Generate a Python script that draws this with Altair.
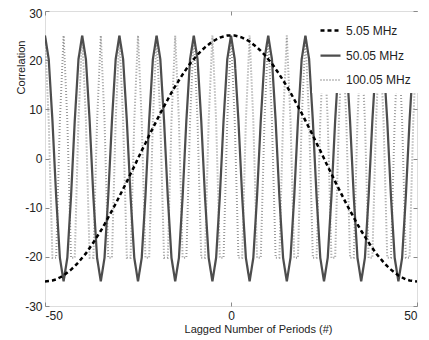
import altair as alt
import pandas as pd

lags = list(range(-50, 51))
series_names = ["5.05 MHz", "50.05 MHz", "100.05 MHz"]

corr_5 = [
    -25.0, -24.9, -24.8, -24.6, -24.2, -23.8, -23.2, -22.6, -21.9, -21.1,
    -20.2, -19.3, -18.2, -17.1, -15.9, -14.7, -13.4, -12.0, -10.6, -9.2,
    -7.7, -6.2, -4.7, -3.1, -1.6, 0.0, 1.6, 3.1, 4.7, 6.2,
    7.7, 9.2, 10.6, 12.0, 13.4, 14.7, 15.9, 17.1, 18.2, 19.3,
    20.2, 21.1, 21.9, 22.6, 23.2, 23.8, 24.2, 24.6, 24.8, 25.0,
    25.0,
    25.0, 24.8, 24.6, 24.2, 23.8, 23.2, 22.6, 21.9, 21.1, 20.2,
    19.3, 18.2, 17.1, 15.9, 14.7, 13.4, 12.0, 10.6, 9.2, 7.7,
    6.2, 4.7, 3.1, 1.6, 0.0, -1.6, -3.1, -4.7, -6.2, -7.7,
    -9.2, -10.6, -12.0, -13.4, -14.7, -15.9, -17.1, -18.2, -19.3, -20.2,
    -21.1, -21.9, -22.6, -23.2, -23.8, -24.2, -24.6, -24.8, -24.9, -25.0,
]

corr_50 = [
    25.0, 20.2, 7.7, -7.7, -20.2, -25.0, -20.2, -7.7, 7.7, 20.2,
    25.0, 20.2, 7.7, -7.7, -20.2, -25.0, -20.2, -7.7, 7.7, 20.2,
    25.0, 20.2, 7.7, -7.7, -20.2, -25.0, -20.2, -7.7, 7.7, 20.2,
    25.0, 20.2, 7.7, -7.7, -20.2, -25.0, -20.2, -7.7, 7.7, 20.2,
    25.0, 20.2, 7.7, -7.7, -20.2, -25.0, -20.2, -7.7, 7.7, 20.2,
    25.0, 20.2, 7.7, -7.7, -20.2, -25.0, -20.2, -7.7, 7.7, 20.2,
    25.0, 20.2, 7.7, -7.7, -20.2, -25.0, -20.2, -7.7, 7.7, 20.2,
    25.0, 20.2, 7.7, -7.7, -20.2, -25.0, -20.2, -7.7, 7.7, 20.2,
    25.0, 20.2, 7.7, -7.7, -20.2, -25.0, -20.2, -7.7, 7.7, 20.2,
    25.0, 20.2, 7.7, -7.7, -20.2, -25.0, -20.2, -7.7, 7.7, 20.2,
    25.0,
]

corr_100 = [
    25.0, 7.7, -20.2, -20.2, 7.7, 25.0, 7.7, -20.2, -20.2, 7.7,
    25.0, 7.7, -20.2, -20.2, 7.7, 25.0, 7.7, -20.2, -20.2, 7.7,
    25.0, 7.7, -20.2, -20.2, 7.7, 25.0, 7.7, -20.2, -20.2, 7.7,
    25.0, 7.7, -20.2, -20.2, 7.7, 25.0, 7.7, -20.2, -20.2, 7.7,
    25.0, 7.7, -20.2, -20.2, 7.7, 25.0, 7.7, -20.2, -20.2, 7.7,
    25.0, 7.7, -20.2, -20.2, 7.7, 25.0, 7.7, -20.2, -20.2, 7.7,
    25.0, 7.7, -20.2, -20.2, 7.7, 25.0, 7.7, -20.2, -20.2, 7.7,
    25.0, 7.7, -20.2, -20.2, 7.7, 25.0, 7.7, -20.2, -20.2, 7.7,
    25.0, 7.7, -20.2, -20.2, 7.7, 25.0, 7.7, -20.2, -20.2, 7.7,
    25.0, 7.7, -20.2, -20.2, 7.7, 25.0, 7.7, -20.2, -20.2, 7.7,
    25.0,
]

x_ticks = [-50, 0, 50]
y_ticks = [-30, -20, -10, 0, 10, 20, 30]

rows = []
for name, vals in zip(series_names, [corr_5, corr_50, corr_100]):
    for lag, v in zip(lags, vals):
        rows.append({"lag": lag, "corr": v, "series": name})
df = pd.DataFrame(rows)

FONT = "Liberation Sans"
TXT = "#222222"
FRAME = "#8a8a8a"

color_scale = alt.Scale(domain=series_names, range=["#000000", "#4d4d4d", "#9a9a9a"])
dash_scale = alt.Scale(domain=series_names, range=[[4, 3], [1, 0], [1, 2]])
width_scale = alt.Scale(domain=series_names, range=[2.5, 2.0, 1.0])

leg = alt.Legend(
    title=None, orient="none", legendX=267, legendY=1,
    fillColor="white", padding=7, symbolType="stroke", symbolSize=400,
    rowPadding=7, labelFontSize=12, labelOffset=4, labelFont=FONT,
    labelColor=TXT,
)

x_scale = alt.Scale(domain=[-50, 50], nice=False, zero=False)
y_scale = alt.Scale(domain=[-30, 30], nice=False)

lbl = "'' + datum.value"

axes = {
    "dotted": (
        alt.Axis(values=x_ticks, orient="bottom", ticks=False, domain=False, grid=False,
                 labelExpr=lbl, labelPadding=4, labelFontSize=12, labelFont=FONT,
                 labelColor=TXT, title="Lagged Number of Periods (#)", titleFont=FONT,
                 titleFontSize=11, titleFontWeight="normal", titleColor=TXT,
                 titleX=213, titleY=23, titleBaseline="middle", titleAlign="center"),
        alt.Axis(values=y_ticks, orient="left", ticks=False, domain=False, grid=False,
                 labelExpr=lbl, labelPadding=3, labelFontSize=12, labelFont=FONT,
                 labelColor=TXT, labelOffset=alt.ExprRef("datum.value == 30 ? 2 : 0"),
                 title="Correlation", titleFont=FONT, titleFontSize=11,
                 titleFontWeight="normal", titleColor=TXT, titleX=-24, titleY=56,
                 titleAngle=270, titleBaseline="middle", titleAlign="center"),
    ),
    "solid": (
        alt.Axis(values=x_ticks, orient="bottom", offset=-4, tickSize=4, labels=False,
                 domain=False, grid=False, title=None, tickColor=FRAME),
        alt.Axis(values=y_ticks, orient="left", offset=-4, tickSize=4, labels=False,
                 domain=False, grid=False, title=None, tickColor=FRAME),
    ),
    "dashed": (
        alt.Axis(values=x_ticks, orient="top", offset=-4, tickSize=4, labels=False,
                 domain=False, grid=False, title=None, tickColor=FRAME),
        alt.Axis(values=y_ticks, orient="right", offset=-4, tickSize=4, labels=False,
                 domain=False, grid=False, title=None, tickColor=FRAME),
    ),
}


def layer(name, key):
    xa, ya = axes[key]
    return alt.Chart(df).transform_filter(alt.datum.series == name).mark_line(
        clip=True
    ).encode(
        x=alt.X("lag:Q", scale=x_scale, axis=xa),
        y=alt.Y("corr:Q", scale=y_scale, axis=ya),
        color=alt.Color("series:N", scale=color_scale, legend=leg, sort=series_names),
        strokeDash=alt.StrokeDash("series:N", scale=dash_scale, legend=leg, sort=series_names),
        strokeWidth=alt.StrokeWidth("series:N", scale=width_scale, legend=leg, sort=series_names),
    )


chart = alt.layer(
    layer("100.05 MHz", "dotted"),
    layer("50.05 MHz", "solid"),
    layer("5.05 MHz", "dashed"),
).resolve_axis(x="independent", y="independent").properties(
    width=372, height=295,
    autosize=alt.AutoSizeParams(type="none"),
    padding={"left": 37, "top": 3, "right": 4, "bottom": 30},
).configure_view(stroke=FRAME, strokeWidth=1).configure(background="white")

chart.save("out.html", embed_options={"renderer": "svg", "actions": False})
